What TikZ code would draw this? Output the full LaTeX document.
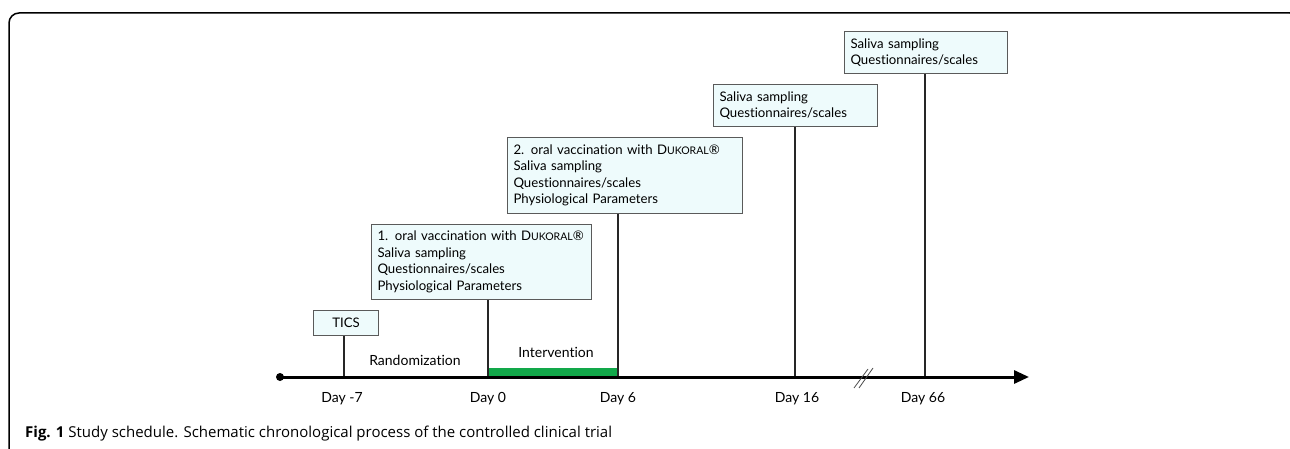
\documentclass[tikz,border=0pt]{standalone}
\usepackage{fontspec}
\setmainfont{Lato}[Ligatures=NoCommon]
\newfontfamily\capfont{Open Sans}
\usetikzlibrary{arrows.meta,positioning,calc}
\definecolor{boxfill}{HTML}{EEFBFC}
\definecolor{boxline}{HTML}{5A5A5A}
\definecolor{intgreen}{HTML}{12A84A}
\newcommand{\dukoral}{D{\fontsize{10.5}{16}\selectfont UKORAL}®}

\begin{document}
\begin{tikzpicture}
[x=1pt,y=-1pt,
infobox/.style={draw=boxline,fill=boxfill,line width=1pt,anchor=north west,align=left,
  inner xsep=6pt,inner ysep=0pt,font=\fontsize{13.2}{16.5}\selectfont},
daylabel/.style={font=\fontsize{14}{15}\selectfont},
myline/.style={line width=1.4pt,draw=black!85},
axisedge/.style={>={Triangle[length=15pt,width=13pt]},line width=3pt}]

\useasboundingbox (0,0) rectangle (1290,449);

% frame
\draw[line width=1.5pt,rounded corners=10pt] (9,460) -- (9,13) -- (1300,13) -- (1300,460);

% time points on the axis
\coordinate (start) at (280,377);
\coordinate (end) at (1029,377);
\coordinate (dm7) at (344,377);
\coordinate (d0) at (488,377);
\coordinate (d6) at (618,377);
\coordinate (d16) at (795,377);
\coordinate (d66) at (925,377);

% boxes
\node (tics) [infobox,align=center,minimum width=65pt,minimum height=25pt,inner xsep=0pt] at (313,310) {TICS};
\node (b1) [infobox,text width=208pt,minimum height=75pt] at (371,224)
  {1. oral vaccination with \dukoral\\Saliva sampling\\Questionnaires/scales\\Physiological Parameters};
\node (b2) [infobox,text width=223pt,minimum height=76pt] at (507,137)
  {2. oral vaccination with \dukoral\\Saliva sampling\\Questionnaires/scales\\Physiological Parameters};
\node (b3) [infobox,text width=152pt,minimum height=42pt] at (713,84)
  {Saliva sampling\\Questionnaires/scales};
\node (b4) [infobox,text width=151pt,minimum height=42pt] at (844,31)
  {Saliva sampling\\Questionnaires/scales};

% intervention period
\fill[intgreen] (d0) rectangle ($(d6)+(0,-9)$);

% connectors
\draw[myline] (tics.south -| dm7) -- (dm7);
\draw[myline] (b1.south -| d0) -- (d0);
\draw[myline] (b2.south -| d6) -- (d6);
\draw[myline] (b3.south -| d16) -- (d16);
\draw[myline] (b4.south -| d66) -- (d66);

% time axis
\draw[axisedge,->] (start) -- (end);
\fill (start) circle (4pt);

% axis break
\draw[line width=0.8pt,black!70] (854,388) -- (868,369);
\draw[line width=0.8pt,black!70] (859,388) -- (873,368);

% labels
\node (rand) [daylabel] at (415,360) {Randomization};
\node (interv) [daylabel] at (556,352) {Intervention};
\node (ldm7) [daylabel] at (342,399) {Day -7};
\node (ld0) [daylabel] at (488,399) {Day 0};
\node (ld6) [daylabel] at (618,399) {Day 6};
\node (ld16) [daylabel] at (797,399) {Day 16};
\node (ld66) [daylabel] at (923,399) {Day 66};

% caption
\node (cap) [anchor=west,font=\capfont\fontsize{15}{18}\selectfont,inner sep=0pt] at (25,434)
  {\textbf{Fig. 1} Study schedule. Schematic chronological process of the controlled clinical trial};
\end{tikzpicture}
\end{document}
